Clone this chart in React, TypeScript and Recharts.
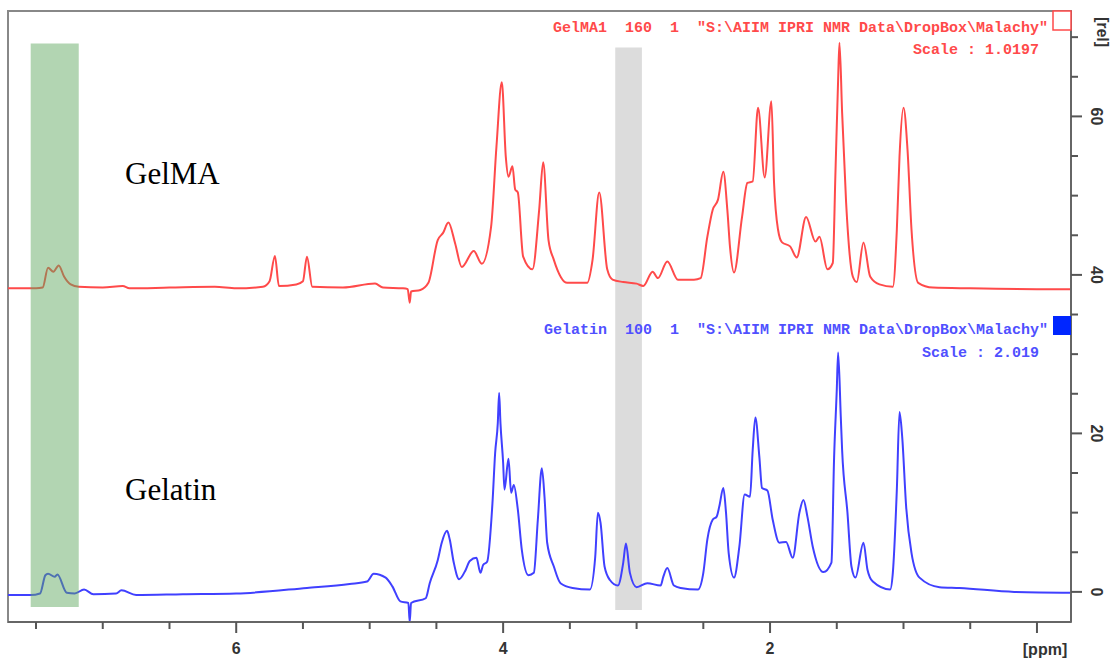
import React from "react";
import { LineChart, Line, XAxis, YAxis, ReferenceArea } from "recharts";

// GelMA trace (red, offset by ~38)
const gelmaPpm = [
  7.71, 7.5, 7.45, 7.41, 7.37, 7.33, 7.29, 7.24, 7.18, 7.0, 6.85, 6.8, 6.5, 6.16, 6.0, 5.8,
  5.75, 5.71, 5.68, 5.55, 5.5, 5.47, 5.43, 5.2, 4.96, 4.9, 4.75, 4.715, 4.7, 4.69, 4.62, 4.56,
  4.49, 4.45, 4.41, 4.36, 4.31, 4.22, 4.16, 4.09, 4.05, 4.01, 3.98, 3.96, 3.93, 3.91, 3.89, 3.85,
  3.78, 3.73, 3.7, 3.66, 3.62, 3.52, 3.37, 3.33, 3.28, 3.22, 3.18, 3.1, 3.0, 2.95, 2.88, 2.84,
  2.77, 2.69, 2.57, 2.52, 2.47, 2.43, 2.39, 2.35, 2.32, 2.3, 2.27, 2.21, 2.17, 2.13, 2.09, 2.04,
  1.99, 1.97, 1.94, 1.91, 1.85, 1.8, 1.73, 1.66, 1.63, 1.57, 1.53, 1.51, 1.49, 1.48, 1.46, 1.43,
  1.38, 1.35, 1.3, 1.25, 1.18, 1.08, 1.05, 1.03, 1.0, 0.97, 0.94, 0.89, 0.78, 0.5, 0.0, -0.255,
];
const gelmaRel = [
  38.3, 38.3, 38.4, 40.9, 40.4, 41.2, 39.8, 38.8, 38.5, 38.4, 38.6, 38.3, 38.4, 38.5, 38.3, 38.5,
  39.2, 42.4, 38.6, 38.8, 39.2, 42.3, 38.5, 38.4, 38.9, 38.4, 38.3, 38.2, 36.5, 37.9, 38.1, 39.0,
  44.4, 45.3, 46.6, 44.0, 41.0, 43.0, 41.4, 46.1, 56.2, 64.3, 54.9, 52.4, 53.7, 50.8, 50.4, 42.3,
  40.7, 48.2, 54.2, 44.4, 41.9, 39.0, 39.0, 41.9, 50.4, 40.7, 39.4, 39.1, 38.9, 38.6, 40.4, 39.6,
  41.7, 39.4, 39.4, 39.6, 44.8, 48.2, 49.5, 53.0, 48.2, 43.5, 40.3, 47.3, 51.6, 51.8, 61.1, 52.3,
  61.9, 51.6, 45.7, 44.1, 43.6, 42.2, 47.3, 44.2, 44.8, 40.7, 41.5, 52.9, 64.6, 69.3, 60.5, 49.1,
  39.8, 39.1, 44.1, 39.8, 38.8, 38.5, 45.7, 54.9, 61.1, 55.8, 45.7, 39.0, 38.4, 38.3, 38.2, 38.2,
];

// Gelatin trace (blue)
const gelatinPpm = [
  7.71, 7.54, 7.47, 7.43, 7.41, 7.36, 7.34, 7.27, 7.21, 7.14, 7.07, 6.9, 6.86, 6.75, 6.4, 6.0,
  5.47, 5.15, 5.02, 4.97, 4.88, 4.83, 4.77, 4.71, 4.7, 4.69, 4.58, 4.55, 4.49, 4.46, 4.42, 4.4,
  4.37, 4.33, 4.28, 4.25, 4.2, 4.17, 4.15, 4.12, 4.08, 4.06, 4.04, 4.03, 4.02, 4.0, 3.99, 3.96,
  3.94, 3.92, 3.89, 3.86, 3.81, 3.77, 3.74, 3.71, 3.69, 3.67, 3.62, 3.57, 3.48, 3.35, 3.31, 3.29,
  3.27, 3.24, 3.2, 3.14, 3.1, 3.08, 3.05, 3.0, 2.92, 2.82, 2.8, 2.77, 2.72, 2.67, 2.54, 2.5,
  2.47, 2.43, 2.4, 2.38, 2.35, 2.33, 2.31, 2.27, 2.23, 2.19, 2.15, 2.13, 2.11, 2.08, 2.06, 2.02,
  1.98, 1.93, 1.88, 1.83, 1.78, 1.75, 1.72, 1.68, 1.6, 1.54, 1.52, 1.5, 1.49, 1.47, 1.46, 1.42,
  1.39, 1.36, 1.3, 1.27, 1.23, 1.1, 1.08, 1.05, 1.03, 1.01, 0.98, 0.94, 0.88, 0.73, 0.58, 0.17,
  -0.255,
];
const gelatinRel = [
  -0.4, -0.4, -0.2, 2.1, 2.3, 1.9, 2.2, -0.1, -0.2, 0.3, -0.3, -0.2, 0.2, -0.4, -0.3, -0.2,
  0.5, 1.0, 1.3, 2.3, 1.8, 0.7, -1.2, -1.4, -3.8, -1.4, -0.8, 1.1, 4.0, 6.2, 7.7, 6.6,
  3.7, 1.6, 2.8, 3.9, 4.3, 2.4, 3.4, 3.8, 11.2, 17.5, 21.3, 25.1, 21.3, 16.3, 12.9, 16.8,
  12.5, 13.5, 10.4, 5.3, 2.1, 2.4, 9.1, 15.6, 12.0, 6.2, 3.2, 1.1, 0.5, 0.3, 4.4, 10.0,
  8.7, 3.2, 1.5, 0.8, 3.7, 6.1, 2.4, 0.6, 1.1, 0.8, 1.9, 3.0, 0.8, 0.5, 0.3, 2.4,
  6.6, 9.1, 9.5, 10.8, 13.1, 10.0, 4.9, 1.8, 5.7, 12.3, 12.0, 17.9, 22.0, 17.0, 13.1, 12.8,
  9.1, 6.2, 6.3, 4.3, 10.0, 11.6, 9.5, 5.7, 2.5, 3.7, 17.0, 25.5, 30.2, 22.1, 17.9, 10.0,
  3.2, 1.8, 6.2, 2.8, 1.3, 0.3, 2.4, 12.9, 22.7, 19.6, 10.7, 4.9, 1.8, 0.6, 0.5, 0.0,
  -0.1,
];

const xTicks = [0, 0.5, 1, 1.5, 2, 2.5, 3, 3.5, 4, 4.5, 5, 5.5, 6, 6.5, 7, 7.5];
const xLabels = [2, 4, 6];
const yTicks = [0, 5, 10, 15, 20, 25, 30, 35, 40, 45, 50, 55, 60, 65, 70];
const yLabels = [0, 20, 40, 60];

const X_DOMAIN: [number, number] = [-0.255, 7.71];
const Y_DOMAIN: [number, number] = [-3.8, 73.3];

const gelmaData = gelmaPpm.map((ppm, i) => ({ ppm, gelma: gelmaRel[i] }));
const gelatinData = gelatinPpm.map((ppm, i) => ({ ppm, gelatin: gelatinRel[i] }));

const axisFont = "'Liberation Sans', Arial, sans-serif";
const monoFont = "'Liberation Mono', 'Courier New', monospace";

const XTick = (props: any) => {
  const { x, y, payload } = props;
  const v = payload.value;
  const major = v % 2 === 0;
  return (
    <g>
      <line x1={x} y1={y} x2={x} y2={y + (major ? 11 : 7)} stroke="#555" strokeWidth={2} />
      {xLabels.includes(v) && (
        <text x={x} y={y + 32} textAnchor="middle" fontFamily={axisFont} fontWeight="bold" fontSize={16} fill="#333">
          {v}
        </text>
      )}
    </g>
  );
};

const YTick = (props: any) => {
  const { x, y, payload } = props;
  const v = payload.value;
  const major = v % 20 === 0;
  return (
    <g>
      <line x1={x} y1={y} x2={x + (major ? 11 : 7)} y2={y} stroke="#555" strokeWidth={2} />
      {yLabels.includes(v) && (
        <text
          x={x + 20}
          y={y}
          transform={`rotate(90, ${x + 20}, ${y})`}
          textAnchor="middle"
          fontFamily={axisFont}
          fontWeight="bold"
          fontSize={16}
          fill="#333"
        >
          {v}
        </text>
      )}
    </g>
  );
};

export default function App() {
  return (
    <div style={{ position: "absolute", left: 0, top: 0, width: 1110, height: 659, background: "#fff" }}>
      <LineChart width={1110} height={659} margin={{ top: 11, right: 0, bottom: 0, left: 8 }}>
        <XAxis
          dataKey="ppm"
          type="number"
          domain={X_DOMAIN}
          allowDataOverflow
          reversed
          ticks={xTicks}
          interval={0}
          height={37}
          tickSize={0}
          tickMargin={0}
          tickLine={false}
          axisLine={{ stroke: "#666", strokeWidth: 2 }}
          tick={<XTick />}
        />
        <YAxis
          orientation="right"
          type="number"
          domain={Y_DOMAIN}
          allowDataOverflow
          ticks={yTicks}
          interval={0}
          width={39}
          tickSize={0}
          tickMargin={0}
          tickLine={false}
          axisLine={{ stroke: "#666", strokeWidth: 2 }}
          tick={<YTick />}
        />
        <ReferenceArea x1={3.16} x2={2.96} y1={-2.3} y2={68.7} fill="#d0d0d0" fillOpacity={0.75} stroke="none" />
        <Line
          data={gelmaData}
          dataKey="gelma"
          type="monotone"
          stroke="#ff4a4a"
          strokeWidth={2}
          dot={false}
          isAnimationActive={false}
        />
        <Line
          data={gelatinData}
          dataKey="gelatin"
          type="monotone"
          stroke="#4040ff"
          strokeWidth={2}
          dot={false}
          isAnimationActive={false}
        />
        <ReferenceArea
          x1={7.54}
          x2={7.18}
          y1={-1.9}
          y2={69.2}
          fill="#5fa85f"
          fillOpacity={0.48}
          stroke="none"
          zIndex={900}
        />
        <ReferenceArea
          x1={X_DOMAIN[1]}
          x2={X_DOMAIN[0]}
          y1={Y_DOMAIN[0]}
          y2={Y_DOMAIN[1]}
          fill="none"
          stroke="#888"
          strokeWidth={2}
        />
      </LineChart>
      <svg width={1110} height={659} style={{ position: "absolute", left: 0, top: 0, pointerEvents: "none" }}>
        <text x={125} y={184} fontFamily="'Liberation Serif', serif" fontSize={31} fill="#000">
          GelMA
        </text>
        <text x={125} y={500} fontFamily="'Liberation Serif', serif" fontSize={31} fill="#000">
          Gelatin
        </text>
        <text x={1048} y={32} textAnchor="end" fontFamily={monoFont} fontWeight="bold" fontSize={15} fill="#ff4a4a" style={{ whiteSpace: "pre" }}>
          {'GelMA1  160  1  "S:\\AIIM IPRI NMR Data\\DropBox\\Malachy"'}
        </text>
        <text x={1039} y={54} textAnchor="end" fontFamily={monoFont} fontWeight="bold" fontSize={15} fill="#ff4a4a" style={{ whiteSpace: "pre" }}>
          {"Scale : 1.0197"}
        </text>
        <text x={1048} y={334} textAnchor="end" fontFamily={monoFont} fontWeight="bold" fontSize={15} fill="#5050ff" style={{ whiteSpace: "pre" }}>
          {'Gelatin  100  1  "S:\\AIIM IPRI NMR Data\\DropBox\\Malachy"'}
        </text>
        <text x={1039} y={357} textAnchor="end" fontFamily={monoFont} fontWeight="bold" fontSize={15} fill="#5050ff" style={{ whiteSpace: "pre" }}>
          {"Scale : 2.019"}
        </text>
        <rect x={1053} y={11} width={18} height={19} fill="#fff" stroke="#ff4a4a" strokeWidth={1.5} />
        <rect x={1053} y={316} width={18} height={19} fill="#0026ff" />
        <text x={1045} y={655} textAnchor="middle" fontFamily={axisFont} fontWeight="bold" fontSize={16} fill="#333">
          [ppm]
        </text>
        <text
          x={1097}
          y={32}
          transform="rotate(90, 1097, 32)"
          textAnchor="middle"
          fontFamily={axisFont}
          fontWeight="bold"
          fontSize={16}
          fill="#333"
        >
          [rel]
        </text>
      </svg>
    </div>
  );
}
